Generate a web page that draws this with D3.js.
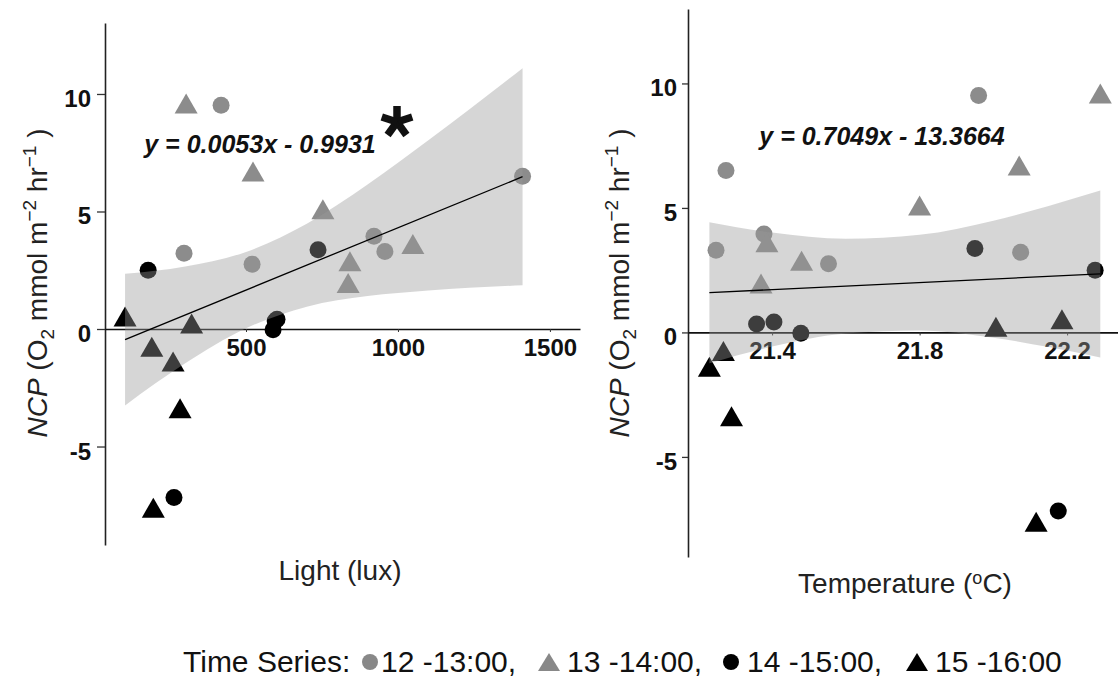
<!DOCTYPE html>
<html>
<head>
<meta charset="utf-8">
<script src="https://cdn.jsdelivr.net/npm/d3@7"></script>
<style>
  body { margin: 0; background: #fff; }
  svg { display: block; font-family: "Liberation Sans", Arial, sans-serif; }
</style>
</head>
<body>
<div id="chart-area"></div>
<script>
//1. Data
var seriesNames = ["12 -13:00", "13 -14:00", "14 -15:00", "15 -16:00"];
var seriesFill = ["#8c8c8c", "#8c8c8c", "#000000", "#000000"];
var seriesShape = ["circle", "triangle", "circle", "triangle"];

// one entry per observation
var obsSeries = [0, 0, 0, 0, 0, 0, 1, 1, 1, 1, 1, 1, 2, 2, 2, 2, 2, 2, 3, 3, 3, 3, 3, 3];
var obsLight = [418, 1410, 921, 520, 957, 296, 303, 523, 753, 842, 836, 1049,
    178, 737, 263, 602, 596, 589, 102, 190, 260, 321, 283, 195];
var obsTemp = [21.96, 21.275, 21.378, 21.553, 21.248, 22.074, 22.29, 22.07, 21.80, 21.48, 21.37, 21.386,
    22.276, 21.95, 22.176, 21.405, 21.358, 21.478, 22.186, 21.268, 21.23, 22.007, 21.29, 22.116];
var obsNcp = [9.52, 6.5, 3.95, 2.76, 3.3, 3.22, 9.6, 6.7, 5.1, 2.88, 1.96, 3.62,
    2.5, 3.37, -7.17, 0.42, 0.34, -0.03, 0.53, -0.75, -1.38, 0.23, -3.37, -7.6];

// fitted lines (end points)
var lightFitX = [102, 1410];
var lightFitY = [-0.45, 6.48];
var tempFitX = [21.23, 22.29];
var tempFitY = [1.60, 2.35];

// confidence bands
var lightBandX = [102, 300, 500, 700, 900, 1100, 1410];
var lightBandLo = [-3.25, -1.46, 0.03, 0.95, 1.40, 1.64, 1.86];
var lightBandHi = [2.35, 2.66, 3.28, 4.48, 6.15, 8.03, 11.10];
var tempBandX = [21.23, 21.4, 21.6, 21.8, 22.0, 22.15, 22.29];
var tempBandLo = [-1.24, -0.57, -0.04, 0.08, -0.21, -0.59, -1.01];
var tempBandHi = [4.43, 4.01, 3.76, 3.92, 4.49, 5.08, 5.70];

var lightTicks = [500, 1000, 1500];
var tempTicks = [21.4, 21.8, 22.2];
var ncpTicks = [-5, 0, 5, 10];

var lightEquation = "y = 0.0053x - 0.9931";
var tempEquation = "y = 0.7049x - 13.3664";

//2. SVG
var svg = d3.select("#chart-area").append("svg")
    .attr("width", 1118)
    .attr("height", 680);

var observations = obsNcp.map(function (v, i) {
    return { s: obsSeries[i], light: obsLight[i], temp: obsTemp[i], ncp: v };
});

function trianglePath(w, h) {
    return "M0," + (-h / 2) + "L" + (w / 2) + "," + (h / 2) + "L" + (-w / 2) + "," + (h / 2) + "Z";
}

//3. Panel drawing
function drawPanel(p) {
    var x = d3.scaleLinear().domain(p.xDomain).range(p.xRange);
    var y = d3.scaleLinear().domain(p.yDomain).range(p.yRange);
    var g = svg.append("g");

    // y axis
    var yAxis = g.append("g")
        .attr("transform", "translate(" + p.xRange[0] + ",0)")
        .call(d3.axisLeft(y).tickValues(ncpTicks).tickSize(p.yTick).tickSizeOuter(0).tickPadding(p.yPad)
            .tickFormat(function (d) { return String(d); }));
    yAxis.select(".domain").attr("stroke", "#222").attr("stroke-width", 1.6);
    yAxis.selectAll(".tick line").attr("stroke", "#333").attr("stroke-width", 1.3);
    yAxis.selectAll("text")
        .attr("dy", "0.52em")
        .attr("font-size", 24)
        .attr("font-weight", "bold")
        .attr("fill", "#111")
        .attr("font-family", "Liberation Sans, Arial, sans-serif");

    // x axis on the zero line
    var xAxis = g.append("g")
        .attr("transform", "translate(0," + y(0) + ")")
        .call(d3.axisBottom(x).tickValues(p.xTicks).tickSize(3).tickSizeOuter(0).tickPadding(7)
            .tickFormat(p.xFormat));
    xAxis.select(".domain").attr("stroke", "#111").attr("stroke-width", 1.6);
    xAxis.selectAll(".tick line").attr("stroke", "#333");
    xAxis.selectAll("text")
        .attr("font-size", 24)
        .attr("font-weight", "bold")
        .attr("fill", "#111")
        .attr("font-family", "Liberation Sans, Arial, sans-serif");

    // points
    g.selectAll(".pt").data(observations).enter()
        .append("path")
        .attr("class", "pt")
        .attr("transform", function (d) {
            return "translate(" + x(d[p.key]) + "," + y(d.ncp) + ")";
        })
        .attr("d", function (d) {
            return seriesShape[d.s] == "circle"
                ? d3.symbol().type(d3.symbolCircle).size(Math.PI * 8.5 * 8.5)()
                : trianglePath(23, 20);
        })
        .attr("fill", function (d) { return seriesFill[d.s]; });

    // band over the points
    var band = p.bandX.map(function (v, i) { return { x: v, lo: p.bandLo[i], hi: p.bandHi[i] }; });
    g.append("path")
        .datum(band)
        .attr("fill", "#999")
        .attr("fill-opacity", 0.4)
        .attr("d", d3.area()
            .x(function (d) { return x(d.x); })
            .y0(function (d) { return y(d.lo); })
            .y1(function (d) { return y(d.hi); })
            .curve(d3.curveMonotoneX));

    // fitted line
    g.append("path")
        .datum(p.fitX.map(function (v, i) { return [v, p.fitY[i]]; }))
        .attr("fill", "none")
        .attr("stroke", "#000")
        .attr("stroke-width", 1.3)
        .attr("d", d3.line()
            .x(function (d) { return x(d[0]); })
            .y(function (d) { return y(d[1]); }));

    // equation
    g.append("text")
        .attr("x", p.eqX)
        .attr("y", p.eqY)
        .attr("text-anchor", "middle")
        .attr("font-size", 25)
        .attr("font-weight", "bold")
        .attr("font-style", "italic")
        .attr("fill", "#111")
        .text(p.equation);

    // y title
    var yt = g.append("text")
        .attr("transform", "translate(" + p.yTitleX + ",283) rotate(-90)")
        .attr("text-anchor", "middle")
        .attr("font-size", 28)
        .attr("fill", "#222");
    yt.append("tspan").attr("font-style", "italic").text("NCP");
    yt.append("tspan").text(" (O");
    yt.append("tspan").attr("font-size", 19).attr("dy", 7).text("2");
    yt.append("tspan").attr("dy", -7).text(" mmol m");
    yt.append("tspan").attr("font-size", 19).attr("dy", -11).text("\u22122");
    yt.append("tspan").attr("dy", 11).text(" hr");
    yt.append("tspan").attr("font-size", 19).attr("dy", -11).text("\u22121");
    yt.append("tspan").attr("dy", 11).text(" )");

    // x title
    var xt = g.append("text")
        .attr("x", p.xTitleX)
        .attr("y", p.xTitleY)
        .attr("text-anchor", "middle")
        .attr("font-size", 28)
        .attr("fill", "#222");
    p.xTitle(xt);

    return { x: x, y: y };
}

drawPanel({
    key: "light",
    xDomain: [36, 1599], xRange: [105, 580],
    yDomain: [-9.19, 13.02], yRange: [545, 23],
    yTick: 8, yPad: 6,
    xTicks: lightTicks, xFormat: d3.format("d"),
    bandX: lightBandX, bandLo: lightBandLo, bandHi: lightBandHi,
    fitX: lightFitX, fitY: lightFitY,
    equation: lightEquation, eqX: 260, eqY: 153,
    yTitleX: 47,
    xTitleX: 340, xTitleY: 580,
    xTitle: function (t) { t.text("Light (lux)"); }
});

drawPanel({
    key: "temp",
    xDomain: [21.172, 22.338], xRange: [688, 1118],
    yDomain: [-9.02, 12.99], yRange: [557, 9],
    yTick: 6, yPad: 5,
    xTicks: tempTicks, xFormat: d3.format(".1f"),
    bandX: tempBandX, bandLo: tempBandLo, bandHi: tempBandHi,
    fitX: tempFitX, fitY: tempFitY,
    equation: tempEquation, eqX: 882, eqY: 145,
    yTitleX: 629,
    xTitleX: 905, xTitleY: 593,
    xTitle: function (t) {
        t.append("tspan").text("Temperature (");
        t.append("tspan").attr("font-size", 18).attr("dy", -9).text("o");
        t.append("tspan").attr("dy", 9).text("C)");
    }
});

//4. Significance asterisk (5 spokes)
var star = svg.append("g").attr("transform", "translate(397,122)");
d3.range(5).forEach(function (i) {
    star.append("line")
        .attr("x1", 0).attr("y1", 0)
        .attr("x2", 0).attr("y2", -16)
        .attr("stroke", "#111")
        .attr("stroke-width", 7.5)
        .attr("transform", "rotate(" + (i * 72) + ")");
});

//5. Legend
var legendY = 662;
svg.append("text")
    .attr("x", 183).attr("y", legendY + 10)
    .attr("font-size", 30).attr("fill", "#111")
    .text("Time Series:");

var legendSymX = [370, 549, 731, 917];
var legendTextX = [381, 567, 747, 935];
seriesNames.forEach(function (name, i) {
    svg.append("path")
        .attr("transform", "translate(" + legendSymX[i] + "," + legendY + ")")
        .attr("d", seriesShape[i] == "circle"
            ? d3.symbol().type(d3.symbolCircle).size(Math.PI * 8 * 8)()
            : trianglePath(22, 18))
        .attr("fill", seriesFill[i] == "#000000" ? "#000" : "#888");
    svg.append("text")
        .attr("x", legendTextX[i]).attr("y", legendY + 10)
        .attr("font-size", 30).attr("fill", "#111")
        .text(name + (i < seriesNames.length - 1 ? "," : ""));
});
</script>
</body>
</html>
